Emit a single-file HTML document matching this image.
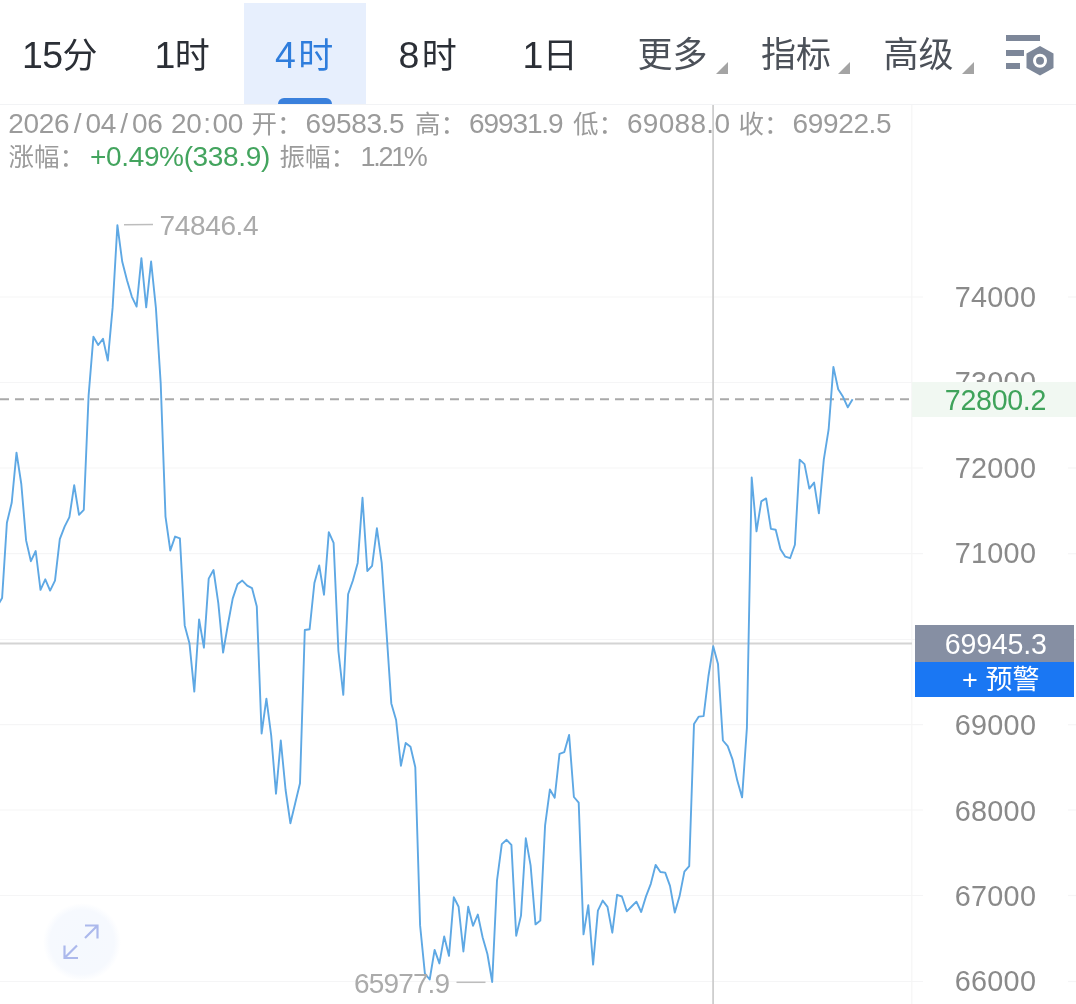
<!DOCTYPE html>
<html lang="zh-CN"><head><meta charset="utf-8"><title>K线</title>
<style>
html,body{margin:0;padding:0;background:#fff;}
body{width:1076px;height:1004px;position:relative;overflow:hidden;font-family:"Liberation Sans","Noto Sans CJK SC",sans-serif;}
b{font-weight:normal;}
.abs{position:absolute;white-space:nowrap;}
.tab{position:absolute;top:30px;height:50px;line-height:50px;font-size:35px;color:#2b2f36;white-space:nowrap;}
.tab b{font-size:37.5px;letter-spacing:-0.6px;}
.tab.m{color:#4c5159;}
.sel{position:absolute;left:244px;top:2.5px;width:121.5px;height:102px;background:#e7effd;}
.ind{position:absolute;left:278px;top:98.3px;width:54px;height:6.3px;background:#3a80dc;border-radius:6px 6px 0 0;}
.tri{position:absolute;width:0;height:0;border-left:12px solid transparent;border-bottom:12px solid #a4a4a4;}
.sep{position:absolute;left:0;top:104px;width:1076px;height:1px;background:#f2f3f5;}
.s{position:absolute;font-size:25.5px;color:#9b9b9b;white-space:nowrap;height:34px;line-height:34px;}
.s b{font-size:28px;letter-spacing:-0.35px;}
.s.g{color:#43a45e;}
.s i{font-style:normal;margin:0 4.3px;}
.s i.c{margin:0 1.8px;}
.s .dt{letter-spacing:-0.3px;}
.yl{position:absolute;left:915.5px;width:160px;text-align:center;font-size:28.8px;color:#8a8a8a;height:40px;line-height:41px;letter-spacing:0.25px;}
.cur{position:absolute;left:912px;top:381.5px;width:164px;height:35.5px;background:#f1f8f2;color:#3fa35b;font-size:28.6px;line-height:36.4px;text-align:center;text-indent:3px;letter-spacing:-0.3px;}
.px{position:absolute;left:915px;top:625.2px;width:158.5px;height:36.8px;background:#868fa3;color:#fff;font-size:28.6px;line-height:39px;text-align:center;letter-spacing:-0.2px;text-indent:3px;}
.al{position:absolute;left:915px;top:662px;width:158.5px;height:35.2px;background:#1a77f3;color:#fff;font-size:27px;line-height:37px;text-align:center;text-indent:13px;}
.hl{position:absolute;font-size:28px;letter-spacing:-0.35px;color:#ababab;white-space:nowrap;line-height:30px;height:30px;}
</style></head><body>
<div class="sel"></div><div class="ind"></div>
<div class="tab" style="left:22px"><b>15</b>分</div>
<div class="tab" style="left:154.5px"><b>1</b>时</div>
<div class="tab" style="left:275px;color:#2f7ddc"><b style="margin-right:3px">4</b>时</div>
<div class="tab" style="left:398.5px"><b style="margin-right:3px">8</b>时</div>
<div class="tab" style="left:522.5px"><b>1</b>日</div>
<div class="tab m" style="left:637.5px">更多</div>
<div class="tab m" style="left:761px">指标</div>
<div class="tab m" style="left:883.5px">高级</div>
<div class="tri" style="left:716px;top:62px"></div>
<div class="tri" style="left:838px;top:62px"></div>
<div class="tri" style="left:961.5px;top:62px"></div>
<svg class="abs" style="left:1004px;top:33px" width="52" height="44" viewBox="0 0 52 44">
<g fill="#7d8799"><rect x="2" y="2" width="34" height="6"/><rect x="2" y="17" width="18" height="6"/><rect x="2" y="30" width="14" height="6"/>
<path d="M36 13 L49.5 20.5 L49.5 35 L36 42.5 L22.5 35 L22.5 20.5 Z"/></g>
<circle cx="36" cy="27.7" r="7" fill="#fff"/><circle cx="36" cy="27.7" r="4" fill="#7d8799"/>
</svg>
<div class="sep"></div>
<span class="s " style="left:8.3px;top:107px"><b class="dt">2026<i>/</i>04<i>/</i>06</b></span><span class="s " style="left:171px;top:107px"><b>20<i class="c">:</i>00</b></span><span class="s " style="left:251.5px;top:107px">开：</span><span class="s " style="left:305.5px;top:107px"><b>69583.5</b></span><span class="s " style="left:415px;top:107px">高：</span><span class="s " style="left:469px;top:107px"><b style="letter-spacing:-1.1px">69931.9</b></span><span class="s " style="left:573px;top:107px">低：</span><span class="s " style="left:627px;top:107px"><b style="letter-spacing:0.3px">69088.0</b></span><span class="s " style="left:738.5px;top:107px">收：</span><span class="s " style="left:792.5px;top:107px"><b>69922.5</b></span><span class="s " style="left:8.5px;top:140.2px">涨幅：</span><span class="s g" style="left:90px;top:140.2px"><b>+0.49%(338.9)</b></span><span class="s " style="left:279.5px;top:140.2px">振幅：</span><span class="s " style="left:360.5px;top:140.2px"><b style="letter-spacing:-2.3px;font-size:27px">1.21%</b></span>
<svg class="abs" style="left:0;top:0" width="1076" height="1004" viewBox="0 0 1076 1004">
<g stroke="#f5f5f6" stroke-width="1.2"><line x1="0" y1="297" x2="923" y2="297"/><line x1="1068" y1="297" x2="1076" y2="297"/>
<line x1="0" y1="382.5" x2="923" y2="382.5"/><line x1="1068" y1="382.5" x2="1076" y2="382.5"/>
<line x1="0" y1="468" x2="923" y2="468"/><line x1="1068" y1="468" x2="1076" y2="468"/>
<line x1="0" y1="553.7" x2="923" y2="553.7"/><line x1="1068" y1="553.7" x2="1076" y2="553.7"/>
<line x1="0" y1="639.5" x2="923" y2="639.5"/><line x1="1068" y1="639.5" x2="1076" y2="639.5"/>
<line x1="0" y1="724.7" x2="923" y2="724.7"/><line x1="1068" y1="724.7" x2="1076" y2="724.7"/>
<line x1="0" y1="810" x2="923" y2="810"/><line x1="1068" y1="810" x2="1076" y2="810"/>
<line x1="0" y1="895.5" x2="923" y2="895.5"/><line x1="1068" y1="895.5" x2="1076" y2="895.5"/>
<line x1="0" y1="981.5" x2="923" y2="981.5"/><line x1="1068" y1="981.5" x2="1076" y2="981.5"/>
<line x1="911.8" y1="105" x2="911.8" y2="1004"/></g>
<line x1="0" y1="399.3" x2="910" y2="399.3" stroke="#a9a9a9" stroke-width="2" stroke-dasharray="9 6"/>
<line x1="0" y1="643.4" x2="912" y2="643.4" stroke="#d4d4d4" stroke-width="2"/>
<line x1="713.1" y1="105" x2="713.1" y2="1004" stroke="#cecece" stroke-width="1.8"/>
<polyline fill="none" stroke="#5ea8e4" stroke-width="1.9" stroke-linejoin="round" points="-2.7,606.0 2.1,598.1 6.9,522.8 11.7,502.8 16.5,452.6 21.3,484.0 26.1,540.4 30.9,561.2 35.7,551.0 40.5,589.8 45.3,579.3 50.1,590.6 55.0,580.6 59.8,539.2 64.6,526.6 69.4,517.1 74.2,485.2 79.0,514.8 83.8,509.8 88.6,395.7 93.4,336.8 98.2,345.0 103.0,338.8 107.8,360.6 112.6,307.9 117.4,225.1 122.2,261.5 127.0,280.3 131.8,296.6 136.6,306.6 141.4,258.2 146.2,307.4 151.1,261.5 155.9,307.9 160.7,383.2 165.5,516.6 170.3,550.5 175.1,536.6 179.9,538.4 184.7,625.4 189.5,643.6 194.3,691.6 199.1,619.4 203.9,647.7 208.7,578.6 213.5,570.0 218.3,603.1 223.1,652.6 227.9,624.5 232.7,598.6 237.5,584.3 242.3,580.6 247.2,585.6 252.0,588.1 256.8,606.6 261.6,733.5 266.4,698.6 271.2,735.5 276.0,793.7 280.8,740.5 285.6,790.0 290.4,823.3 295.2,803.3 300.0,783.2 304.8,630.0 309.6,629.3 314.4,583.0 319.2,565.4 324.0,594.8 328.8,532.1 333.6,542.8 338.4,651.0 343.3,694.8 348.1,594.3 352.9,580.5 357.7,562.9 362.5,497.7 367.3,571.0 372.1,565.9 376.9,528.3 381.7,562.9 386.5,632.0 391.3,703.4 396.1,720.0 400.9,765.7 405.7,743.0 410.5,746.8 415.3,767.2 420.1,925.4 424.9,973.6 429.7,979.5 434.6,949.9 439.4,963.4 444.2,936.4 449.0,955.9 453.8,897.3 458.6,906.8 463.4,951.5 468.2,906.8 473.0,925.8 477.8,914.5 482.6,937.3 487.4,954.0 492.2,982.0 497.0,880.5 501.8,844.1 506.6,839.8 511.4,844.9 516.2,935.7 521.0,915.6 525.8,838.3 530.6,865.4 535.5,924.4 540.3,920.6 545.1,825.3 549.9,789.4 554.7,797.7 559.5,753.8 564.3,752.1 569.1,734.9 573.9,797.0 578.7,802.7 583.5,934.4 588.3,905.1 593.1,964.6 597.9,910.6 602.7,900.6 607.5,906.8 612.3,932.7 617.1,894.8 621.9,896.5 626.8,911.3 631.6,906.5 636.4,901.7 641.2,912.0 646.0,896.4 650.8,883.8 655.6,864.9 660.4,872.0 665.2,872.6 670.0,885.9 674.8,912.5 679.6,896.1 684.4,871.6 689.2,866.2 694.0,724.1 698.8,716.6 703.6,716.1 708.4,676.5 713.2,646.3 718.0,663.9 722.9,740.5 727.7,746.2 732.5,759.3 737.3,780.6 742.1,797.4 746.9,727.9 751.7,477.5 756.5,531.3 761.3,501.4 766.1,498.4 770.9,528.9 775.7,529.8 780.5,549.3 785.3,556.7 790.1,558.2 794.9,544.8 799.7,459.6 804.5,464.1 809.3,488.6 814.1,482.6 818.9,513.4 823.8,459.6 828.6,429.7 833.4,366.9 838.2,389.3 843.0,396.8 847.8,407.3 852.6,399.2"/>
<line x1="124" y1="224.8" x2="153" y2="224.6" stroke="#bdbdbd" stroke-width="1.5"/>
<line x1="456.5" y1="982.3" x2="485.5" y2="982.3" stroke="#bdbdbd" stroke-width="1.5"/>
<defs><radialGradient id="rg"><stop offset="0" stop-color="#f5f9fe"/><stop offset="0.82" stop-color="#f6f9fe"/><stop offset="1" stop-color="#f6f9fe" stop-opacity="0"/></radialGradient></defs><circle cx="82" cy="942" r="39" fill="url(#rg)"/>
<g stroke="#acb9ec" stroke-width="2.2" fill="none" stroke-linecap="butt">
<path d="M85 938 L97.5 925.5 M85 925.5 L97.5 925.5 L97.5 938.5"/>
<path d="M77 945.5 L64.5 958 M64.5 945.5 L64.5 958 L78 958"/>
</g>
</svg>
<div class="hl" style="left:159.5px;top:210.5px">74846.4</div>
<div class="hl" style="left:354px;top:968.5px;letter-spacing:-0.85px">65977.9</div>
<div class="yl" style="top:276.8px">74000</div>
<div class="yl" style="top:362.2px">73000</div>
<div class="yl" style="top:447.7px">72000</div>
<div class="yl" style="top:533.2px">71000</div>
<div class="yl" style="top:704.5px">69000</div>
<div class="yl" style="top:790.6px">68000</div>
<div class="yl" style="top:876.2px">67000</div>
<div class="yl" style="top:961.2px">66000</div>
<div class="cur">72800.2</div>
<div class="px">69945.3</div>
<div class="al">+ 预警</div>
</body></html>
